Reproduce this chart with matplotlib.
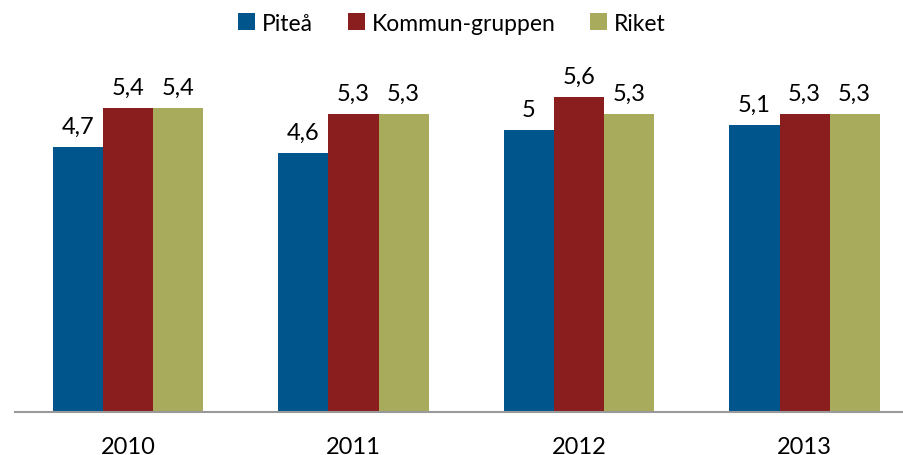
import matplotlib
matplotlib.use("Agg")
import matplotlib.pyplot as plt
import numpy as np

years = ["2010", "2011", "2012", "2013"]
series_names = ["Piteå", "Kommun-gruppen", "Riket"]
pitea = [4.7, 4.6, 5.0, 5.1]
kommun = [5.4, 5.3, 5.6, 5.3]
riket = [5.4, 5.3, 5.3, 5.3]
labels_pitea = ["4,7", "4,6", "5", "5,1"]
labels_kommun = ["5,4", "5,3", "5,6", "5,3"]
labels_riket = ["5,4", "5,3", "5,3", "5,3"]
colors = ["#00558C", "#8A1E1F", "#A8AB5C"]

plt.rcParams['font.family'] = ['Lato', 'DejaVu Sans']

fig = plt.figure(figsize=(9.04, 4.56), dpi=100)
W, H = 904, 456
left_px, right_px, base_px, top_px = 15, 904, 413, 47
ax = fig.add_axes([left_px / W, (H - base_px) / H, (right_px - left_px) / W, (base_px - top_px) / H])

x = np.arange(len(years))
bw = 0.222
all_series = [pitea, kommun, riket]
all_labels = [labels_pitea, labels_kommun, labels_riket]
for i, (vals, labs) in enumerate(zip(all_series, all_labels)):
    pos = x + (i - 1) * bw
    ax.bar(pos, vals, width=bw, color=colors[i], label=series_names[i])
    for p, v, l in zip(pos, vals, labs):
        ax.text(p, v + 0.18, l, ha='center', va='bottom', fontsize=17, color='black')

ax.set_xlim(-0.501, 3.441)
ax.set_ylim(0, 6.5)
ax.set_xticks(x)
ax.set_xticklabels(years, fontsize=17)
ax.tick_params(axis='x', length=0, pad=17)
ax.set_yticks([])
for s in ['top', 'right', 'left']:
    ax.spines[s].set_visible(False)
ax.spines['bottom'].set_color('#999999')
ax.spines['bottom'].set_linewidth(1.5)

fig.legend(loc='upper center', bbox_to_anchor=(0.5, 1.015), ncol=3, frameon=False,
           fontsize=16.5, handlelength=0.75, handleheight=0.75, handletextpad=0.3,
           columnspacing=1.5)

fig.savefig("out.png", dpi=100)
